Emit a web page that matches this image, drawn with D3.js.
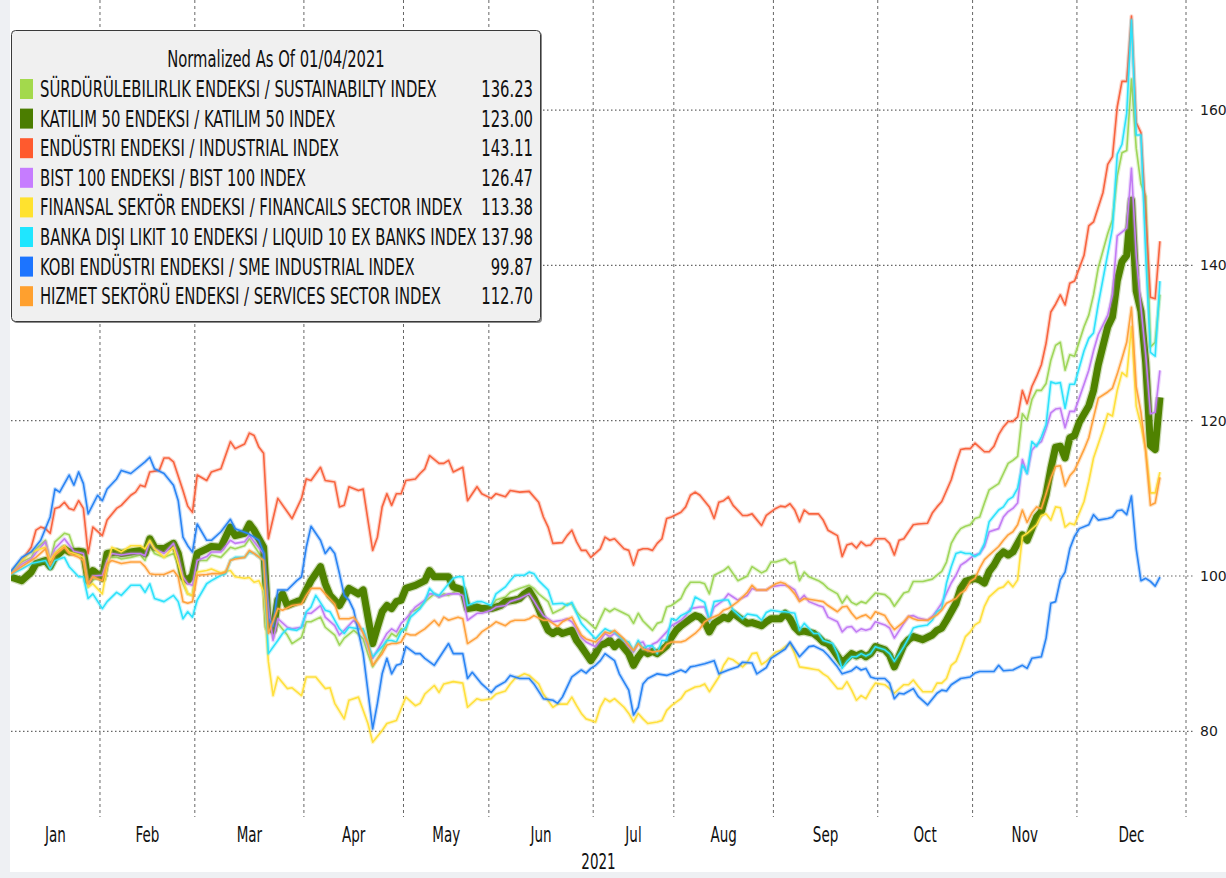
<!DOCTYPE html>
<html>
<head>
<meta charset="utf-8">
<script src="https://cdn.jsdelivr.net/npm/d3@7"></script>
<style>
  body { margin: 0; background: #fff; }
  svg { display: block; }
</style>
</head>
<body>
<svg id="chart" width="1226" height="878"></svg>
<script>
// x values are trading-session indexes counted from 04 Jan 2021
const legendTitle = "Normalized As Of 01/04/2021";
const seriesNames = [
  "SÜRDÜRÜLEBILIRLIK ENDEKSI / SUSTAINABILTY INDEX",
  "KATILIM 50 ENDEKSI / KATILIM 50 INDEX",
  "ENDÜSTRI ENDEKSI / INDUSTRIAL INDEX",
  "BIST 100 ENDEKSI / BIST 100 INDEX",
  "FINANSAL SEKTÖR ENDEKSI / FINANCAILS SECTOR INDEX",
  "BANKA DIŞI LIKIT 10 ENDEKSI / LIQUID 10 EX BANKS INDEX",
  "KOBI ENDÜSTRI ENDEKSI / SME INDUSTRIAL INDEX",
  "HIZMET SEKTÖRÜ ENDEKSI / SERVICES SECTOR INDEX"
];
const lastValues = ["136.23", "123.00", "143.11", "126.47", "113.38", "137.98", "99.87", "112.70"];
const monthLabels = ["Jan", "Feb", "Mar", "Apr", "May", "Jun", "Jul", "Aug", "Sep", "Oct", "Nov", "Dec"];
const monthStarts = [0, 20, 40, 63, 84, 102, 124, 141, 162, 184, 204, 226, 249];
const yearLabel = "2021";
const yTicks = [80, 100, 120, 140, 160];

const sustainability = [[0,100],[3,101.8],[5,102.4],[6,103.5],[8,104.6],[9,102],[10,104.4],[12,105.5],[13,105.3],[14,103.5],[16,102.7],[17,98.6],[18,99.5],[20,99.9],[21,102.4],[23,102.4],[24,102.2],[26,102.4],[28,102.7],[29,102],[30,103.9],[31,102.9],[33,102.4],[35,102.9],[36,101.6],[37,99],[38,97.7],[39,97.5],[40,102],[42,102],[43,102.7],[45,102.4],[47,103.7],[48,103.5],[50,103.9],[51,104.8],[52,103.9],[54,102],[55,96],[56,92.1],[57,93.9],[59,92.4],[60,91.3],[62,92.1],[63,94.1],[64,94.1],[66,94.7],[67,93.4],[69,92.4],[70,91.1],[71,92],[73,93],[74,92.5],[75,91.9],[76,90],[77,88.3],[79,90.4],[80,91.7],[81,92.6],[82,92.2],[83,93.2],[84,93],[85,95.4],[86,95.6],[87,96],[88,96.7],[90,97.7],[91,97.3],[92,97.7],[93,97.5],[95,98.2],[96,98.3],[97,96],[99,95.8],[100,96],[102,96.1],[103,96.9],[105,97.3],[106,97.9],[108,98.4],[110,98.8],[111,98.4],[112,97.7],[114,96.7],[115,95.2],[117,95.8],[118,96.4],[119,96.4],[120,95.4],[121,94.7],[122,94.3],[124,93.2],[125,94.5],[126,95.8],[127,95.4],[128,95.8],[130,95.2],[131,94.9],[132,93.9],[133,95.2],[134,94.2],[136,93],[137,93.9],[138,94.1],[139,96],[140,96.2],[142,97.1],[143,98.4],[144,99.2],[146,99.2],[147,99],[148,97.7],[149,100.1],[151,100.7],[152,101.2],[153,100.3],[154,99.4],[156,100],[157,101.2],[159,100.4],[160,100.7],[161,101.8],[162,101.8],[164,102.2],[165,101.6],[166,101.8],[167,99.4],[168,100.5],[169,99.9],[171,99.4],[172,99],[173,98.4],[175,97.7],[176,96.5],[177,97.4],[178,96.6],[179,96.3],[180,96.7],[181,96.5],[183,97.8],[185,97.6],[186,97.1],[187,96.1],[189,97.8],[190,98],[191,99.3],[193,99.3],[195,99.6],[196,100.1],[197,100.6],[198,101.8],[199,104.2],[200,105.3],[201,106.1],[202,106.4],[203,106.6],[204,107.4],[205,107.6],[206,109.4],[207,111.1],[209,111.9],[210,113.2],[211,114.5],[212,114.9],[213,115.4],[214,120.9],[215,120.1],[216,122.7],[217,123.9],[218,123.9],[219,124.8],[220,127.8],[221,129.7],[222,130.1],[223,126.5],[224,128.5],[225,128.3],[227,132.1],[228,133.6],[229,136.2],[230,139.7],[232,144.1],[233,145.9],[234,151.5],[235,154.5],[236,154.8],[237,164],[238,155.1],[239,150.5],[240,148.9],[241,129.5],[242,130.1],[243,136.23]];

const katilim50 = [[0,100],[3,99.4],[5,100.5],[6,101.6],[8,102],[9,101.2],[10,102.4],[12,103.5],[13,103.1],[15,103.2],[16,103.1],[17,99.4],[18,100.7],[20,99.7],[21,102.9],[23,103.1],[24,102.9],[26,103.1],[28,103.3],[29,102.9],[30,104.8],[31,103.7],[33,103.5],[35,104.2],[36,102.9],[37,99.9],[38,99.4],[39,100.1],[40,102.9],[42,103.5],[43,103.8],[45,103.7],[47,106.3],[48,105.2],[50,105.5],[51,106.7],[52,105.9],[54,103.7],[55,93.4],[56,93],[57,96.9],[58,97.7],[59,96.2],[61,96.7],[62,96.9],[63,98.2],[64,99.4],[66,101.2],[67,99],[68,97.5],[70,96.2],[71,97.3],[72,98.4],[74,97.7],[75,98.2],[76,94.7],[77,91.3],[78,93.4],[79,95.4],[80,96.2],[81,95.8],[82,96.7],[83,96.9],[84,98.4],[86,98.8],[88,99.4],[89,100.7],[90,99.9],[91,99.9],[93,99.9],[94,98.6],[95,98.4],[96,98.2],[97,95.8],[99,96],[100,95.8],[102,95.8],[103,96],[104,96.2],[105,96.7],[107,96.9],[108,97.1],[109,97.7],[110,98.1],[111,97.1],[112,95.8],[113,94.3],[114,93],[115,92.6],[116,93],[117,92.6],[119,93],[120,91.7],[121,90.9],[122,90],[123,89.1],[124,90],[125,91.1],[126,91.3],[127,91.7],[128,90.9],[129,91.5],[131,90],[132,88.5],[133,89.6],[134,90.4],[135,90],[136,90.3],[137,90],[138,90.5],[139,91],[140,92.1],[141,93],[142,93.6],[144,94.5],[145,94.9],[146,94.7],[147,94.1],[148,92.8],[149,93.9],[151,94.7],[152,94.5],[153,95.2],[155,94.3],[156,93.9],[157,94],[159,93.6],[160,94.1],[161,94.5],[163,94.5],[164,95.2],[165,94.5],[166,93.4],[167,92.8],[168,92.9],[170,92.6],[171,92.1],[172,91.5],[173,91.3],[174,90.6],[176,88.8],[178,90],[179,89.7],[180,90],[181,89.6],[182,90],[183,90.9],[185,90.5],[186,89.8],[187,88.3],[189,91.1],[190,91.8],[191,92.2],[192,92],[193,91.8],[195,92.4],[196,93],[197,93.3],[198,94.3],[200,96.5],[201,98.4],[202,99.3],[204,99.7],[205,99.5],[206,99.1],[207,100.6],[208,101.4],[209,102.5],[210,103.1],[211,102.7],[212,103.1],[213,104.2],[214,105.3],[215,104.6],[216,106.1],[217,107.6],[218,108.3],[219,110.5],[220,113.8],[221,116.6],[222,116.7],[223,115.2],[224,117.8],[225,118.1],[226,119.8],[228,121.9],[229,123.9],[230,127.2],[232,132.1],[233,133.4],[234,138],[235,140.5],[236,141.3],[237,148.4],[238,136.7],[239,134.1],[240,127.5],[241,116.8],[242,116.3],[243,123]];

const industrial = [[0,100],[3,102],[5,103.7],[6,105.9],[7,106.3],[8,106.1],[9,105.5],[10,108.7],[11,108.9],[12,109.5],[13,108.7],[14,108.5],[15,109.7],[16,108.7],[17,102.9],[18,106.3],[20,105.2],[21,107.2],[23,108.7],[24,109.1],[26,110.4],[27,110.8],[28,111.7],[29,111.5],[30,113.4],[32,113.6],[33,115.2],[34,115.2],[35,114.7],[37,111],[38,109],[39,108.2],[40,113],[42,112.3],[43,113.4],[45,113.8],[47,117.3],[48,116.4],[50,117],[51,118.4],[52,118.1],[53,116.6],[54,115.8],[55,104.8],[57,110],[60,107.4],[62,110],[63,112.5],[64,112.3],[66,114],[67,112.3],[69,112.1],[70,108.9],[71,109.1],[72,111.5],[74,111],[75,111.2],[76,107.2],[77,103.3],[78,105],[79,108.9],[80,110.6],[81,109.1],[82,110.6],[83,110.6],[84,112.3],[86,112.5],[87,113.2],[88,113.8],[89,115.5],[91,114.5],[92,114.5],[93,114.9],[94,113.4],[96,114],[97,109.7],[99,111.5],[100,110.6],[102,110],[103,110.6],[105,110.2],[106,111],[108,110.8],[110,110.9],[112,109.5],[113,107.6],[114,106.3],[115,104.2],[117,104.3],[118,105.2],[119,105.9],[120,104.4],[121,103.3],[122,103.3],[123,102.4],[125,103.5],[126,105],[127,104.6],[128,104.8],[130,103.5],[131,103.3],[132,101.4],[133,103.3],[134,103.5],[135,103.5],[136,103.3],[137,104.2],[138,104.8],[139,107.4],[140,107.6],[142,108.2],[143,108.9],[144,110.4],[145,110.8],[146,110.4],[148,108.9],[149,107.4],[150,109.5],[151,109.7],[152,110.2],[153,109.1],[155,107.8],[156,107.8],[157,108],[159,106.5],[160,107.8],[162,108.7],[163,109],[164,108.9],[165,109.3],[166,108.5],[167,107],[168,108.5],[169,108],[171,108],[172,107.2],[173,105.9],[175,105.2],[176,102.5],[177,104],[178,104.2],[179,103.6],[180,104.4],[181,103.9],[182,104],[183,104.8],[185,104.8],[186,104.2],[187,102.7],[188,104.6],[189,104.8],[191,106.6],[192,106.7],[194,106.8],[195,108.1],[196,108.9],[197,109.6],[199,112.4],[200,114.5],[201,116.3],[202,116.4],[203,116.4],[204,117.1],[206,116],[207,116],[208,116.7],[209,118.2],[210,119.2],[211,119.9],[212,119.9],[213,120.5],[214,123.9],[215,122.2],[216,124.4],[217,125.7],[218,127.2],[219,130],[220,134],[221,135],[222,136.2],[223,134.9],[224,137.7],[225,138],[227,141.3],[228,145.1],[229,145.6],[231,149.4],[232,153],[233,154],[234,160.4],[235,163.7],[236,163.7],[237,172.1],[238,158.4],[239,157.1],[241,135.9],[242,135.7],[243,143.11]];

const bist100 = [[0,100],[3,101.5],[5,102.2],[6,103],[8,104.4],[9,102],[10,103.5],[12,104.8],[13,104],[14,103.2],[16,102.9],[17,98.8],[18,100],[20,100.1],[21,102],[22,102.9],[24,102.7],[26,102.9],[28,102.9],[29,102.6],[30,104.4],[31,103.5],[33,102.9],[35,104.2],[36,102.5],[37,99.9],[38,99],[39,98.8],[40,102],[42,102.5],[43,103.1],[45,103.1],[47,104.6],[48,104.2],[50,104.4],[51,105.2],[52,104.4],[54,102.9],[55,96],[56,91.7],[57,94.5],[59,93.4],[60,93.2],[62,93.4],[63,95.2],[64,95.2],[66,96.2],[67,94.7],[69,93.6],[70,92.4],[71,93],[73,94.3],[74,93.6],[75,92.8],[76,90.9],[77,89.4],[79,91.5],[80,92.6],[81,93.2],[82,92.8],[83,93.9],[84,94.5],[85,95.2],[86,96],[88,96.9],[89,97.7],[90,97.7],[91,97.3],[92,97.5],[93,97.7],[95,97.7],[96,97.5],[97,94.3],[99,95.2],[100,95.2],[102,95.6],[103,96],[105,96.2],[106,96.7],[108,97.1],[110,97.7],[111,96.8],[112,95.8],[113,94.9],[115,94.1],[117,94.3],[118,94.5],[119,94.1],[120,93.2],[121,92.1],[122,91.5],[124,90.9],[125,91.7],[126,92.6],[127,92.2],[128,92.6],[130,91.7],[131,90.9],[132,90.2],[133,91.3],[134,91.5],[135,90.4],[136,91.2],[137,91.5],[139,92.8],[140,93.6],[142,94.3],[143,94.9],[144,95.8],[146,96],[147,96],[148,94.3],[149,96],[151,96.9],[152,97.7],[153,97.3],[154,96.9],[156,97.5],[157,98.4],[158,98.2],[160,98.2],[161,98.6],[163,98.8],[164,98.8],[165,98.6],[166,98.2],[167,96.9],[168,97.5],[169,96.7],[171,96.2],[172,96],[173,94.7],[175,94.1],[176,92.8],[177,93.4],[178,93.5],[179,92.8],[180,93.2],[181,93],[182,93.2],[183,94.1],[185,93.7],[186,93.3],[187,92],[189,93.9],[190,94.8],[191,94.9],[192,94.6],[194,94.3],[195,94.8],[196,95.6],[197,96.5],[198,97.8],[199,99.1],[200,100.1],[201,101.4],[202,101.8],[203,102.3],[204,102.7],[205,102.9],[206,103.8],[207,105.7],[209,106.1],[210,107.6],[211,108.3],[212,108.7],[213,109.4],[214,115],[215,113.2],[216,116.2],[217,116.9],[218,117.3],[219,119],[220,121],[221,121.5],[222,121.6],[223,119.1],[224,121.2],[225,121.2],[227,124.7],[228,126.5],[229,129],[230,131.1],[232,133.6],[233,136.2],[234,143.8],[235,144.3],[236,144.8],[237,152.5],[238,141.3],[239,134.6],[240,128.5],[241,120.9],[242,121.1],[243,126.47]];

const financials = [[0,100],[3,102],[5,103.1],[6,103.3],[8,103.7],[9,102],[10,102.9],[12,103.9],[13,103.1],[15,102.7],[16,102.4],[17,98.6],[18,99],[20,97.7],[21,101.2],[22,103.7],[24,103.1],[26,103.9],[28,103.9],[29,103.5],[30,104.6],[31,103.5],[33,102.4],[35,103.7],[36,101.6],[37,99.4],[38,97.7],[39,97.5],[40,100.5],[42,100.7],[43,100.9],[45,100.4],[46,100.6],[47,100.7],[48,99.9],[50,99.7],[51,99.8],[52,99.2],[53,99.4],[54,98],[55,89],[56,84.6],[57,87],[59,85.5],[60,85.6],[62,84.6],[63,87],[65,87],[67,85.5],[68,85.6],[69,83.6],[71,81.6],[72,84],[74,84.4],[75,82.7],[76,81],[77,78.6],[79,80.1],[80,81],[82,81.4],[83,82.9],[84,84.4],[86,83.3],[87,83.6],[88,84.8],[90,85.9],[91,85],[92,86.1],[94,86.4],[96,86.2],[97,83.1],[99,84.2],[100,84],[102,84.2],[103,84.8],[105,85.2],[106,86.1],[107,86.8],[109,87.4],[110,87.2],[112,86.1],[113,84.8],[115,83.1],[116,83.5],[118,83.5],[119,84.4],[120,83.3],[121,82.3],[122,81.6],[124,81.2],[125,83.1],[126,84.2],[127,83.8],[128,84.2],[130,83.1],[131,82.3],[132,81.2],[133,82.3],[134,81.6],[135,81],[137,81.2],[138,81.4],[139,82.7],[140,83.3],[142,84.2],[143,85.1],[145,85.7],[146,85.8],[147,86.1],[148,85.1],[150,87],[151,88.5],[152,89.4],[153,89.2],[155,88.3],[156,88.9],[157,90],[158,90.1],[159,88.6],[160,89],[162,90.2],[163,90.4],[164,90.9],[165,91.3],[166,90],[167,88.3],[169,88.1],[170,88],[171,87.9],[172,87.4],[173,87],[175,85.5],[176,85.5],[177,86.4],[178,85.3],[179,84],[180,84.6],[181,84.2],[182,85.3],[183,86.2],[185,86],[186,85.5],[187,84.9],[189,86],[190,86],[191,86.6],[192,85.8],[193,85.1],[195,85.1],[196,86.2],[197,86.2],[198,86.8],[199,88.5],[200,89],[201,90.5],[202,92.2],[203,92.8],[204,93.7],[205,94.1],[206,96.1],[207,97.3],[209,98.4],[210,98.6],[211,99.3],[212,98.6],[213,99.5],[214,105.1],[215,105.5],[217,106.6],[218,107.8],[219,108],[220,107.2],[221,108.9],[222,108.8],[223,106.3],[224,106.8],[225,106.6],[227,109.6],[228,112.2],[229,115.2],[231,118.8],[232,120.9],[233,120.6],[234,123.9],[235,126.2],[236,125.7],[237,132.1],[238,121.9],[239,119.4],[240,116.3],[241,110.7],[242,110.7],[243,113.38]];

const liquid10 = [[0,100],[3,100.9],[5,101.6],[8,102],[9,100.9],[10,102],[12,102.4],[13,101.2],[15,99.9],[16,99.9],[17,97.1],[18,97.7],[20,95.8],[21,96.7],[23,97.9],[24,97.5],[26,98.8],[28,98.8],[29,97.9],[30,99],[31,97.1],[33,96.7],[35,97.5],[36,96.7],[37,94.5],[38,95.4],[39,94.7],[40,96.9],[42,99],[43,99.4],[45,100.1],[46,100.3],[47,102],[48,102.4],[50,102.4],[51,103.1],[52,102.9],[54,102],[55,90],[57,91.7],[58,92.6],[59,93.2],[61,93],[62,93.4],[63,95.4],[64,96],[65,97.5],[67,95.6],[68,95.4],[70,93.2],[71,92.6],[72,93.4],[74,93.2],[75,93.2],[76,91.3],[77,89.6],[79,90.9],[80,91.7],[81,91.7],[82,91.5],[83,92.8],[84,93.4],[85,94.7],[87,95.8],[88,96.7],[89,98.4],[90,97.7],[91,97.5],[93,99],[94,99.7],[95,99.9],[96,99.9],[97,96.2],[99,96.7],[100,96.7],[102,96.2],[103,97.7],[105,98.6],[106,99.4],[107,100.1],[109,100.1],[110,100.5],[111,100.3],[112,99.4],[114,98.2],[115,96.4],[117,96.5],[118,96.2],[119,96.6],[120,95.2],[121,93.9],[122,93.2],[124,91.9],[125,92.6],[126,93.2],[127,92.9],[128,92.8],[130,91.7],[131,91.5],[132,90.4],[133,91.7],[134,90.6],[135,91],[136,91],[137,90],[138,91.7],[139,91.7],[140,94.5],[141,94.3],[142,94.9],[144,95.5],[145,97.3],[147,96.6],[148,94.3],[149,96.7],[151,96.9],[152,96.9],[153,95.6],[155,94.5],[156,95.1],[158,94.9],[159,94.3],[160,95.3],[161,95.6],[163,95.4],[164,95.4],[166,95.2],[167,93],[168,93.9],[170,92.6],[171,92.6],[172,91.7],[174,91.3],[175,90],[176,88.1],[177,89],[178,89.6],[179,89.6],[180,90],[181,89.7],[182,90],[183,90.9],[185,90.5],[186,90],[187,89],[189,90.9],[190,92],[191,93.3],[192,93.5],[194,93.7],[195,94.3],[196,95.4],[197,95.8],[198,99.1],[199,101.2],[200,102.9],[201,103.1],[202,102.9],[203,102.9],[204,102.5],[205,102.9],[206,104.2],[207,107],[209,108.5],[210,108.9],[211,109.8],[212,110.2],[213,111.3],[214,114.3],[215,113.2],[216,117.3],[217,116.7],[218,117.9],[219,119.5],[220,125],[221,124.8],[222,124.9],[223,121.6],[224,124.7],[225,124.7],[227,129],[228,130.6],[229,131.3],[230,135],[232,141.5],[233,144.8],[234,154.3],[235,155.6],[236,159.6],[237,171.6],[238,156.8],[239,156.8],[240,141.3],[241,128.8],[242,128.3],[243,137.98]];

const smeIndustrial = [[0,100],[3,102.4],[5,103.1],[7,104.6],[9,107.6],[10,111.2],[11,110.8],[13,113],[14,111.7],[15,113.4],[16,111.9],[17,108],[19,110.4],[20,109.7],[21,111.2],[23,112.5],[24,113.6],[26,113.2],[29,114.7],[30,115.3],[31,113.8],[33,113.2],[35,111.7],[36,109.7],[37,105],[38,103.9],[39,103.1],[40,106.7],[42,104.6],[43,104.6],[45,105.7],[47,107.3],[48,106.1],[51,105.4],[53,104.6],[54,103],[55,94.5],[56,93.5],[57,98.2],[59,98.2],[61,99.4],[62,99.9],[63,103.7],[64,106.4],[65,105.5],[66,104.6],[67,102.9],[68,103.7],[69,102.9],[70,100.3],[71,97.5],[72,96.9],[73,95.6],[75,90],[77,80.3],[78,83.6],[79,87.4],[80,89.4],[81,87.4],[82,88.5],[83,88.7],[84,90.9],[86,90],[87,90],[88,89.4],[90,88.5],[93,91.3],[94,90],[96,90],[97,86.8],[98,87.6],[100,86.1],[102,85],[103,85.7],[105,86.4],[106,87.2],[108,86.8],[110,86.8],[111,86.1],[113,84.2],[115,84],[116,83.6],[117,84.4],[119,87],[121,87.9],[122,87.5],[123,88.1],[124,88.5],[125,89.1],[126,90],[128,89.1],[129,87.4],[131,85.3],[132,82.1],[133,83.1],[134,86.1],[135,86.8],[137,87.4],[139,87.2],[140,87.4],[142,87.9],[143,87.6],[144,88.3],[145,88.4],[147,88.7],[149,89.1],[150,87.4],[152,87.9],[154,88.3],[155,88.9],[157,88.8],[158,87.4],[160,88.2],[161,89.4],[163,90.2],[164,90.6],[165,91.5],[167,89.6],[169,90.9],[170,91],[172,90.4],[173,89.8],[175,88.3],[176,87.4],[178,87.8],[179,88.3],[180,87.9],[181,88.1],[182,87],[183,86.8],[185,86.8],[186,86.2],[187,84.2],[188,84.9],[189,84.8],[191,85.5],[192,84.5],[194,83.4],[196,84.9],[197,85.3],[198,85.2],[199,86],[201,86.8],[203,87],[204,87.5],[205,87.7],[207,87.7],[208,87.7],[209,88.5],[210,87.8],[212,87.9],[214,88.5],[215,88.1],[216,89.4],[218,89.6],[219,92],[220,96.5],[221,96.7],[222,99.5],[223,100.5],[224,103.5],[225,105.1],[226,106.1],[228,106.6],[229,107.9],[230,107.2],[232,107.4],[233,107.6],[234,108.4],[235,108.5],[236,107.9],[237,110.3],[238,103.5],[239,99.4],[240,99.7],[241,99.3],[242,98.7],[243,99.87]];

const services = [[0,100],[3,101.2],[5,102],[6,102.4],[8,103.5],[9,101.4],[10,102.7],[12,103.7],[13,102.9],[15,102.4],[16,102],[17,99],[18,99.9],[20,99.4],[21,101.6],[22,102],[24,101.6],[26,101.8],[28,101.8],[29,101.2],[30,100.3],[31,100.2],[33,100.2],[35,100.7],[36,99.9],[37,96.7],[38,96.5],[39,96.7],[40,100.1],[42,100.2],[43,100.3],[45,100.3],[46,100.5],[47,102],[48,102.2],[50,102.4],[51,103.3],[52,102.9],[54,102],[55,92.6],[57,95.8],[58,95.6],[60,96.2],[62,96.4],[63,97.5],[64,98.4],[66,98.4],[67,97.7],[69,96.4],[70,94.5],[72,94.5],[73,94.7],[74,93.9],[75,92.6],[76,91.3],[77,88.5],[79,90],[80,91.1],[81,91.3],[82,91.3],[83,91.5],[84,92.6],[85,92.4],[86,92.4],[87,92.8],[88,93.2],[90,94.3],[91,93.6],[92,94.7],[93,94.3],[95,94.7],[96,94.5],[97,91.3],[99,92.1],[100,92.8],[102,93.6],[103,94.1],[105,93.6],[106,94.1],[107,94.3],[109,94.3],[110,94.5],[111,94.9],[113,94.3],[114,94.3],[115,93.9],[116,93.5],[117,94.1],[119,94.7],[120,93.5],[121,92.4],[122,91.9],[124,91.5],[125,92.1],[126,92.8],[127,92.6],[128,93],[130,91.9],[131,91.1],[132,90.4],[133,91.3],[134,90.6],[136,90.2],[138,90.4],[139,91.2],[140,91.5],[142,91.5],[143,91.7],[145,92.6],[146,93.2],[147,94.1],[148,94.5],[150,95],[151,95.6],[152,95.8],[154,96.7],[155,97.3],[156,97.9],[157,98.8],[158,98.2],[160,98.2],[161,98.6],[162,99],[163,99.2],[164,99],[165,98.4],[166,97.7],[167,96.7],[168,97.1],[170,96.9],[172,96.7],[173,96.2],[175,95.4],[176,96],[177,96.1],[178,95.2],[179,94.5],[180,94.8],[181,95],[182,94.5],[183,95.4],[185,94.9],[186,93.9],[187,93.1],[189,94.1],[190,94.8],[191,94.5],[192,94.3],[194,94.3],[196,95],[197,95.6],[198,96.5],[200,97.1],[201,97.8],[202,98.2],[203,99.3],[204,99.7],[205,101],[206,102.1],[207,102.7],[209,103.8],[210,104.6],[211,105.3],[212,105.7],[213,106.6],[214,108.5],[215,106.9],[216,108.1],[217,108.9],[218,108.7],[219,110.6],[220,112.6],[221,114.1],[222,114.2],[223,111.6],[224,112.9],[225,113.6],[227,116.3],[228,117.8],[229,120.4],[230,122.9],[232,123.7],[233,124.2],[234,126],[235,128],[236,130.1],[237,134.6],[238,124.4],[239,121.1],[240,116],[241,109.1],[242,109.4],[243,112.7]];

const allSeries = [sustainability, katilim50, industrial, bist100, financials, liquid10, smeIndustrial, services];
const swatchColors = ["#a3d94c", "#4b7d00", "#ff5a2e", "#c67cff", "#ffe22e", "#1fe6ff", "#1c74ff", "#ffa02e"];
const lineColors   = ["#9fd65a", "#4f8200", "#f8643f", "#c27cf4", "#ffe03c", "#2ee2fb", "#2a84f4", "#ffa23e"];
const lineWidths   = [1.6, 7, 1.6, 1.6, 1.6, 1.6, 1.6, 1.6];

const svg = d3.select("#chart");
const W = 1226, H = 878;
const plot = {left: 11, right: 1190, top: 0, bottom: 817};
const condensed = "'DejaVu Sans Condensed', 'Liberation Sans Narrow', 'DejaVu Sans', sans-serif";

const x = d3.scaleLinear().domain([0, 248.5]).range([7.5, 1186]);
const y = d3.scaleLinear().domain([80, 160]).range([731.3, 110.1]);

// background bands
svg.append("rect").attr("width", W).attr("height", H).attr("fill", "#ffffff");
svg.append("rect").attr("x", 0).attr("y", 0).attr("width", 10).attr("height", H).attr("fill", "#eef0f3");
svg.append("rect").attr("x", 0).attr("y", 872).attr("width", W).attr("height", H - 872).attr("fill", "#eef0f3");

// grid
const grid = svg.append("g");
grid.selectAll("line.v")
  .data(monthStarts.slice(1))
  .enter().append("line")
  .attr("class", "v")
  .attr("x1", d => x(d - 0.5)).attr("x2", d => x(d - 0.5))
  .attr("y1", plot.top).attr("y2", plot.bottom)
  .attr("stroke", "#666").attr("stroke-width", 1)
  .attr("stroke-dasharray", "3,3");

grid.selectAll("line.h")
  .data(yTicks)
  .enter().append("line")
  .attr("class", "h")
  .attr("x1", plot.left).attr("x2", 1194)
  .attr("y1", d => y(d)).attr("y2", d => y(d))
  .attr("stroke", "#666").attr("stroke-width", 1.2)
  .attr("stroke-dasharray", "1.5,2.5");

// y labels on the right
svg.append("g").selectAll("text")
  .data(yTicks)
  .enter().append("text")
  .attr("x", 1200).attr("y", d => y(d))
  .attr("dy", "0.36em")
  .attr("font-family", "'DejaVu Sans', Verdana, sans-serif")
  .attr("font-size", 14)
  .attr("fill", "#1a1a1a")
  .text(d => d);

// lines
svg.append("defs").append("clipPath").attr("id", "clip")
  .append("rect").attr("x", plot.left).attr("y", plot.top)
  .attr("width", plot.right - plot.left).attr("height", plot.bottom - plot.top);

const line = d3.line().x(d => x(d[0])).y(d => y(d[1]));
const lines = svg.append("g").attr("clip-path", "url(#clip)");
allSeries.forEach((s, i) => {
  lines.append("path").datum(s)
    .attr("d", line).attr("fill", "none")
    .attr("stroke", lineColors[i]).attr("stroke-opacity", 0.28)
    .attr("stroke-width", lineWidths[i] + 2.4)
    .attr("stroke-linejoin", "round");
  lines.append("path").datum(s)
    .attr("d", line).attr("fill", "none")
    .attr("stroke", lineColors[i])
    .attr("stroke-width", lineWidths[i])
    .attr("stroke-linejoin", "round");
});

// legend
const lg = svg.append("g");
lg.append("rect").attr("x", 13).attr("y", 32).attr("width", 529).attr("height", 291)
  .attr("rx", 4).attr("fill", "#8a8a8a");
lg.append("rect").attr("x", 11.5).attr("y", 30.5).attr("width", 529).attr("height", 291)
  .attr("rx", 4).attr("fill", "#f0f0f0").attr("stroke", "#3a3a3a").attr("stroke-width", 1);

const rowY = i => 89 + i * 29.6;
const fs = 23;
const title = lg.append("text")
  .attr("font-family", condensed).attr("font-size", fs).attr("fill", "#111")
  .attr("text-anchor", "middle").attr("dominant-baseline", "central")
  .text(legendTitle);

lg.selectAll("rect.sw")
  .data(seriesNames)
  .enter().append("rect")
  .attr("class", "sw")
  .attr("x", 20).attr("y", (d, i) => rowY(i) - 10)
  .attr("width", 13).attr("height", 20)
  .attr("fill", (d, i) => swatchColors[i]);

const labels = lg.selectAll("text.nm")
  .data(seriesNames)
  .enter().append("text")
  .attr("class", "nm")
  .attr("font-family", condensed).attr("font-size", fs).attr("fill", "#111")
  .attr("dominant-baseline", "central")
  .text(d => d);

const vals = lg.selectAll("text.val")
  .data(lastValues)
  .enter().append("text")
  .attr("class", "val")
  .attr("font-family", condensed).attr("font-size", fs).attr("fill", "#111")
  .attr("text-anchor", "end").attr("dominant-baseline", "central")
  .text(d => d);

// month labels
const months = svg.append("g").selectAll("text")
  .data(monthLabels)
  .enter().append("text")
  .attr("font-family", condensed).attr("font-size", 21).attr("fill", "#111")
  .attr("text-anchor", "middle").attr("dominant-baseline", "central")
  .text(d => d);

const year = svg.append("text")
  .attr("font-family", condensed).attr("font-size", 21).attr("fill", "#111")
  .attr("text-anchor", "middle").attr("dominant-baseline", "central")
  .text(yearLabel);

// squeeze the condensed text so the longest legend row spans like the original
const widest = labels.nodes()[5].getComputedTextLength();
const k = 437 / widest;
labels.attr("transform", (d, i) => `translate(40,${rowY(i)}) scale(${k},1)`);
vals.attr("transform", (d, i) => `translate(533,${rowY(i)}) scale(${k},1)`);
title.attr("transform", `translate(276,59) scale(${k},1)`);
months.attr("transform", (d, i) => {
  const a = Math.max(x(monthStarts[i] - 0.5), plot.left);
  const b = x(monthStarts[i + 1] - 0.5);
  return `translate(${(a + b) / 2},835) scale(${k},1)`;
});
year.attr("transform", `translate(${(plot.left + 1186) / 2},862) scale(${k},1)`);
</script>
</body>
</html>
